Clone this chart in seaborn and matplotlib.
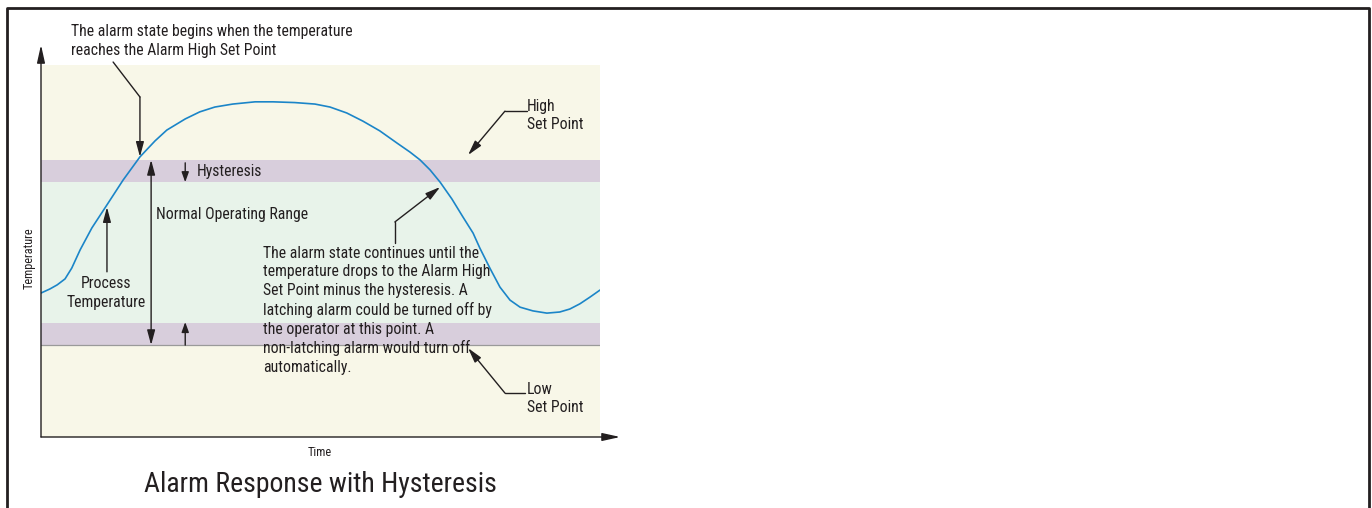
import numpy as np
import pandas as pd
import matplotlib
matplotlib.use("Agg")
import matplotlib.pyplot as plt
from matplotlib.lines import Line2D
from matplotlib import font_manager as fm
import seaborn as sns

# ---------------- data ----------------
time = [0.0, 1.6, 2.9, 4.3, 5.5, 7.0, 9.1, 11.8, 14.7, 17.7, 20.4, 22.5, 25.8,
        28.4, 31.1, 34.3, 38.3, 41.5, 45.4, 49.0, 51.7, 54.7, 57.6, 60.6, 63.7,
        66.0, 67.8, 69.6, 71.4, 73.5, 75.5, 77.3, 78.5, 80.3, 82.1, 83.9, 85.7,
        88.0, 90.5, 92.8, 94.6, 96.4, 98.2, 100.0]
temperature = [38.7, 39.8, 40.9, 42.5, 45.4, 50.3, 56.2, 62.4, 69.1, 75.3, 79.6,
               82.5, 85.5, 87.4, 88.7, 89.5, 90.1, 90.1, 89.9, 89.5, 88.7, 87.1,
               84.9, 82.3, 79.0, 76.6, 74.5, 71.8, 68.5, 64.0, 59.1, 54.8, 50.8,
               45.4, 40.3, 36.8, 34.9, 33.9, 33.3, 33.6, 34.4, 35.8, 37.6, 39.5]

high_set_point = 74.5
low_set_point = 24.7
hysteresis = 6.0
scale_top = 100.0

band_colors = {"outside": "#F8F7E8", "hyst": "#D8CEDC", "normal": "#E8F3EA"}
curve_color = "#1B85C8"
ink = "#231F20"

title_text = "Alarm Response with Hysteresis"
xlabel_text = "Time"
ylabel_text = "Temperature"
note_begin = "The alarm state begins when the temperature\nreaches the Alarm High Set Point"
note_continue = ("The alarm state continues until the\ntemperature drops to the Alarm High\n"
                 "Set Point minus the hysteresis. A\nlatching alarm could be turned off by\n"
                 "the operator at this point. A\nnon-latching alarm would turn off\nautomatically.")

# ---------------- style ----------------
sns.set_theme(style="white")


def pick_font():
    cands = [("Roboto Condensed", "normal"), ("Liberation Sans Narrow", "normal"),
             ("Liberation Sans Narrow", "condensed"), ("DejaVu Sans", "condensed"),
             ("Noto Sans", "condensed"), ("Open Sans", "condensed")]
    for fam, stretch in cands:
        try:
            path = fm.findfont(fm.FontProperties(family=fam, stretch=stretch),
                               fallback_to_default=False)
        except Exception:
            continue
        p = path.lower()
        if "condensed" in p or "narrow" in p or "cond" in p:
            return fam, stretch, True
    return "Roboto", "normal", False


FAM, STRETCH, CONDENSED = pick_font()
plt.rcParams["font.family"] = [FAM, "DejaVu Sans"]
plt.rcParams["font.stretch"] = STRETCH
plt.rcParams["text.color"] = ink

fs = 11.3 if CONDENSED else 9.8
fs_small = 8.8 if CONDENSED else 7.8
fs_title = 20.0 if CONDENSED else 18.0
LS = 1.3

W, H = 1372, 508
fig = plt.figure(figsize=(W / 100, H / 100), dpi=100)
fig.patch.set_facecolor("white")
ax = fig.add_axes([41 / W, 1 - 437 / H, 559 / W, 372 / H])
ax.set_xlim(0, 100)
ax.set_ylim(0, scale_top)
ax.set_facecolor("none")
for s in ax.spines.values():
    s.set_visible(False)
ax.set_xticks([])
ax.set_yticks([])

# bands
ax.axhspan(0, low_set_point, color=band_colors["outside"], lw=0, zorder=0)
ax.axhspan(low_set_point, low_set_point + hysteresis, color=band_colors["hyst"], lw=0, zorder=0)
ax.axhspan(low_set_point + hysteresis, high_set_point - hysteresis, color=band_colors["normal"], lw=0, zorder=0)
ax.axhspan(high_set_point - hysteresis, high_set_point, color=band_colors["hyst"], lw=0, zorder=0)
ax.axhspan(high_set_point, scale_top, color=band_colors["outside"], lw=0, zorder=0)
ax.axhline(low_set_point, color="#9A9A9A", lw=0.9, zorder=1)

# curve
df = pd.DataFrame({"Time": time, "Temperature": temperature})
sns.lineplot(data=df, x="Time", y="Temperature", ax=ax, color=curve_color, lw=1.2, zorder=3)
ax.set_xlabel("")
ax.set_ylabel("")


def arrow(x0, y0, x1, y1, both=False, hw=0.2, hl=0.75):
    style = f"<|-|>,head_width={hw},head_length={hl}" if both else f"-|>,head_width={hw},head_length={hl}"
    ax.annotate("", xy=(x1, y1), xytext=(x0, y0), xycoords="data",
                arrowprops=dict(arrowstyle=style, color=ink, lw=1.0,
                                shrinkA=0, shrinkB=0),
                annotation_clip=False, zorder=5)


def seg(xs, ys):
    ax.plot(xs, ys, color=ink, lw=1.0, clip_on=False, zorder=5)


# axes arrows
arrow(0, 0, 0, 105.4, hw=0.2, hl=0.9)
arrow(0, 0, 103.6, 0, hw=0.2, hl=0.9)

# note 1
ax.text(5.4, 110.9, note_begin, fontsize=fs, ha="left", va="top", linespacing=LS,
        clip_on=False)
seg([12.9, 17.7], [100.8, 91.4])
arrow(17.7, 91.4, 17.7, 75.3)

# normal operating range double arrow
arrow(19.7, 24.7, 19.7, 74.5, both=True)
ax.text(20.6, 59.7, "Normal Operating Range", fontsize=fs, ha="left", va="center")

# hysteresis arrows
arrow(25.8, 73.7, 25.8, 68.5, hl=0.5, hw=0.18)
arrow(25.8, 24.7, 25.8, 30.9, hl=0.5, hw=0.18)
ax.text(27.9, 71.5, "Hysteresis", fontsize=fs, ha="left", va="center")

# process temperature
arrow(11.8, 44.4, 11.8, 61.8)
ax.text(11.6, 43.3, "Process\nTemperature", fontsize=fs, ha="center", va="top", linespacing=LS)

# continue note
ax.text(39.7, 51.4, note_continue, fontsize=fs, ha="left", va="top", linespacing=LS)
seg([63.3, 63.3], [52.2, 57.8])
arrow(63.3, 57.8, 71.4, 67.2)

# high set point
ax.text(86.9, 90.9, "High\nSet Point", fontsize=fs, ha="left", va="top", linespacing=LS)
seg([86.9, 83.0], [87.6, 87.6])
arrow(83.0, 87.6, 76.4, 75.8)

# low set point
ax.text(86.9, 14.9, "Low\nSet Point", fontsize=fs, ha="left", va="top", linespacing=LS)
seg([86.6, 83.0], [11.8, 11.8])
arrow(83.0, 11.8, 76.4, 23.9)

# axis labels and title
ax.text(-2.1, 48.1, ylabel_text, fontsize=fs_small, rotation=90, ha="center", va="center", clip_on=False)
ax.text(49.9, -4.3, xlabel_text, fontsize=fs_small, ha="center", va="center", clip_on=False)
ax.text(49.9, -12.8, title_text, fontsize=fs_title, ha="center", va="center", clip_on=False)

# outer frame (left, top, right)
fx = [7 / W, 7 / W, 1369 / W, 1369 / W]
fy = [0, 1 - 8 / H, 1 - 8 / H, 0]
fig.add_artist(Line2D(fx, fy, transform=fig.transFigure, color="#231F20", lw=2.0))

fig.savefig("out.png", dpi=100)
